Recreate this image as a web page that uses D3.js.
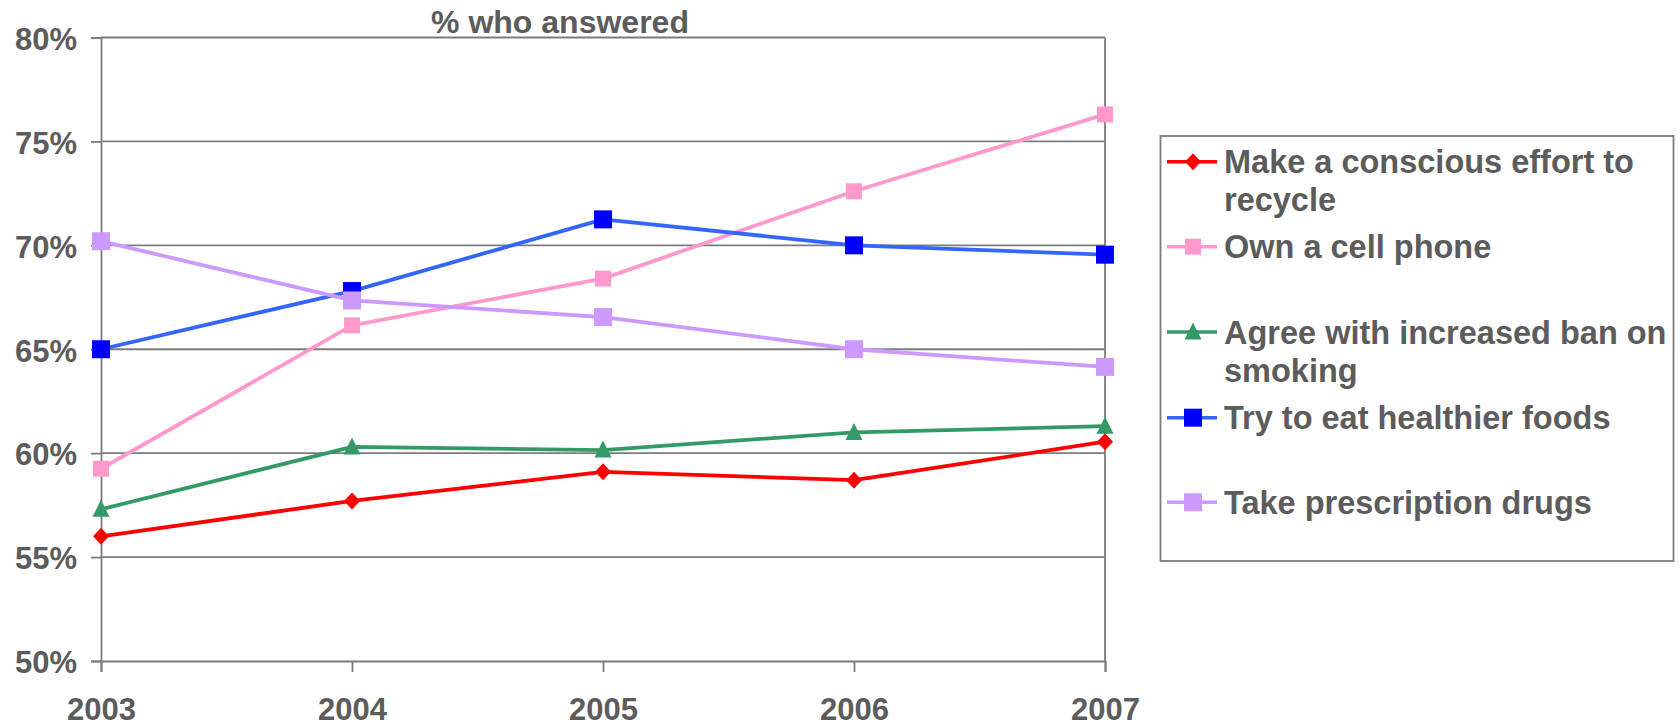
<!DOCTYPE html>
<html>
<head>
<meta charset="utf-8">
<script src="https://cdn.jsdelivr.net/npm/d3@7"></script>
<style>
  html, body { margin: 0; padding: 0; background: #ffffff; }
  svg { display: block; }
  text { font-family: "Liberation Sans", Arial, sans-serif; font-weight: bold; fill: #5c5c5c; }
</style>
</head>
<body>
<svg id="chart" width="1680" height="726"></svg>
<script>
// Survey years on the x axis
const years = ["2003", "2004", "2005", "2006", "2007"];

// Share of respondents (%) per year, one array per question
const recycle      = [56.0, 57.7, 59.1, 58.7, 60.55];
const cellPhone    = [59.25, 66.15, 68.4, 72.6, 76.3];
const smokingBan   = [57.3, 60.3, 60.15, 61.0, 61.3];
const healthyFoods = [65.0, 67.8, 71.25, 70.0, 69.55];
const prescription = [70.2, 67.35, 66.55, 65.0, 64.15];

// Series labels (legend text, wrapped lines)
const seriesNames = [
  ["Make a conscious effort to", "recycle"],
  ["Own a cell phone"],
  ["Agree with increased ban on", "smoking"],
  ["Try to eat healthier foods"],
  ["Take prescription drugs"]
];

const yTicks = [50, 55, 60, 65, 70, 75, 80];
const chartTitle = "% who answered";

// Styling per series: line colour, marker colour, marker shape and size
const styles = [
  { line: "#ff0000", fill: "#ff0000", shape: "diamond", w: 16, h: 17 },
  { line: "#ff99cc", fill: "#ff99cc", shape: "square", w: 16, h: 16 },
  { line: "#339966", fill: "#339966", shape: "triangle", w: 17, h: 17 },
  { line: "#3366ff", fill: "#0000ff", shape: "square", w: 18, h: 18 },
  { line: "#cc99ff", fill: "#cc99ff", shape: "square", w: 18, h: 18 }
];

const seriesValues = [recycle, cellPhone, smokingBan, healthyFoods, prescription];
const series = seriesValues.map((vals, i) => ({
  names: seriesNames[i],
  values: vals.map((v, j) => ({ year: years[j], value: v })),
  style: styles[i]
}));

const svg = d3.select("#chart");
const plotLeft = 101, plotRight = 1105, plotTop = 37.5, plotBottom = 661;

const x = d3.scalePoint().domain(years).range([plotLeft, plotRight]);
const y = d3.scaleLinear().domain([50, 80]).range([plotBottom, plotTop]);

const gridColor = "#7c7c7c";
const gridWidth = 1.8;

// Horizontal gridlines (the 80% line doubles as the top border)
svg.append("g")
  .selectAll("line")
  .data(yTicks.filter(t => t > 50))
  .join("line")
  .attr("x1", plotLeft).attr("x2", plotRight)
  .attr("y1", d => y(d)).attr("y2", d => y(d))
  .attr("stroke", gridColor).attr("stroke-width", gridWidth);

// Right border of the plot area
svg.append("line")
  .attr("x1", plotRight).attr("x2", plotRight)
  .attr("y1", plotTop).attr("y2", plotBottom)
  .attr("stroke", gridColor).attr("stroke-width", gridWidth);

// Y axis
const yAxis = svg.append("g")
  .attr("transform", `translate(${plotLeft},0)`)
  .call(d3.axisLeft(y).tickValues(yTicks).tickFormat(d => d + "%").tickSize(10).tickPadding(14));
yAxis.select(".domain").attr("stroke", gridColor).attr("stroke-width", gridWidth);
yAxis.selectAll(".tick line").attr("stroke", gridColor).attr("stroke-width", gridWidth);
yAxis.selectAll(".tick text")
  .attr("font-size", 31).attr("font-family", null).attr("fill", null)
  .attr("dy", "0.38em");

// X axis
const xAxis = svg.append("g")
  .attr("transform", `translate(0,${plotBottom})`)
  .call(d3.axisBottom(x).tickSize(11).tickPadding(0));
xAxis.select(".domain").attr("stroke", gridColor).attr("stroke-width", gridWidth);
xAxis.selectAll(".tick line").attr("stroke", gridColor).attr("stroke-width", gridWidth);
xAxis.selectAll(".tick text")
  .attr("font-size", 31).attr("font-family", null).attr("fill", null)
  .attr("dy", null).attr("y", 58.5);

// Title
svg.append("text")
  .attr("x", 560).attr("y", 33)
  .attr("text-anchor", "middle")
  .attr("font-size", 32)
  .text(chartTitle);

// Marker path generator
function markerPath(st) {
  const hw = st.w / 2, hh = st.h / 2;
  if (st.shape === "diamond") return `M0,${-hh}L${hw},0L0,${hh}L${-hw},0Z`;
  if (st.shape === "triangle") return `M0,${-hh - 1}L${hw},${hh - 1}L${-hw},${hh - 1}Z`;
  return `M${-hw},${-hh}H${hw}V${hh}H${-hw}Z`;
}

const line = d3.line().x(d => x(d.year)).y(d => y(d.value));

// Series lines and markers
const sg = svg.append("g").selectAll("g").data(series).join("g");
sg.append("path")
  .attr("d", d => line(d.values))
  .attr("fill", "none")
  .attr("stroke", d => d.style.line)
  .attr("stroke-width", 3.8)
  .attr("stroke-linejoin", "round");
sg.each(function (s) {
  d3.select(this).selectAll("path.marker")
    .data(s.values)
    .join("path")
    .attr("class", "marker")
    .attr("transform", d => `translate(${x(d.year)},${y(d.value)})`)
    .attr("d", markerPath(s.style))
    .attr("fill", s.style.fill);
});

// Legend
const legend = svg.append("g");
legend.append("rect")
  .attr("x", 1160.5).attr("y", 136)
  .attr("width", 513).attr("height", 425)
  .attr("fill", "#ffffff")
  .attr("stroke", gridColor).attr("stroke-width", gridWidth);

const legendRowY = [161.7, 246.7, 332, 417.7, 502.3];
series.forEach((s, i) => {
  const g = legend.append("g").attr("transform", `translate(0,${legendRowY[i]})`);
  g.append("line")
    .attr("x1", 1167).attr("x2", 1217).attr("y1", 0).attr("y2", 0)
    .attr("stroke", s.style.line).attr("stroke-width", 3.5);
  g.append("path")
    .attr("transform", "translate(1193,0)")
    .attr("d", markerPath(s.style))
    .attr("fill", s.style.fill);
  s.names.forEach((t, k) => {
    g.append("text")
      .attr("x", 1224).attr("y", 11.5 + k * 38)
      .attr("font-size", 32.5)
      .text(t);
  });
});
</script>
</body>
</html>
